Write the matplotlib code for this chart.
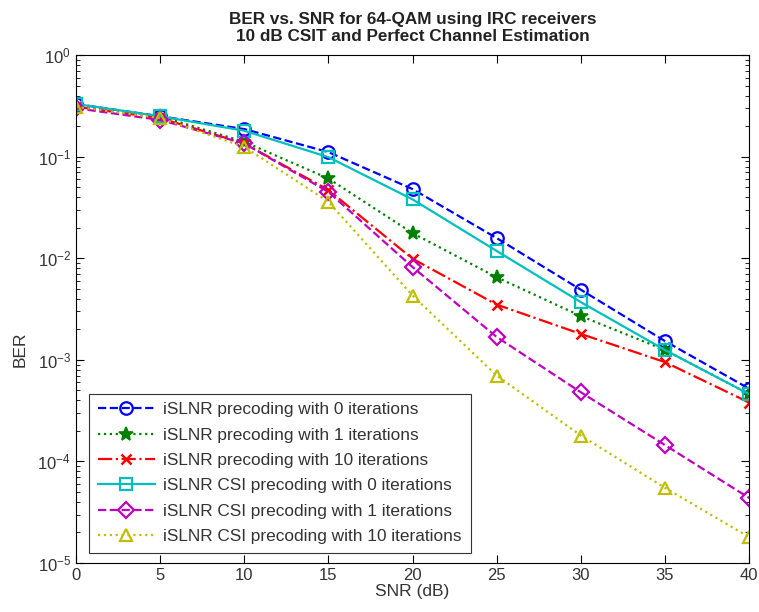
import matplotlib
matplotlib.use("Agg")
import matplotlib.pyplot as plt
from matplotlib.ticker import LogLocator, NullFormatter

plt.rcParams['font.family'] = ['Liberation Sans', 'DejaVu Sans']
plt.rcParams['mathtext.fontset'] = 'custom'
plt.rcParams['mathtext.rm'] = 'Liberation Sans'

# SNR points (dB)
snr = [0, 5, 10, 15, 20, 25, 30, 35, 40]

# BER values
ber_slnr_0 = [0.33, 0.25, 0.187, 0.111, 0.048, 0.0158, 0.0049, 0.00153, 0.00052]
ber_slnr_1 = [0.31, 0.25, 0.14, 0.061, 0.0177, 0.0065, 0.0027, 0.00125, 0.00046]
ber_slnr_10 = [0.31, 0.24, 0.135, 0.047, 0.0099, 0.0035, 0.0018, 0.00095, 0.00038]
ber_csi_0 = [0.33, 0.25, 0.18, 0.099, 0.038, 0.0118, 0.0037, 0.00125, 0.00046]
ber_csi_1 = [0.30, 0.23, 0.135, 0.045, 0.0082, 0.00168, 0.00048, 0.000145, 0.0000437]
ber_csi_10 = [0.31, 0.24, 0.125, 0.036, 0.0043, 0.0007, 0.00018, 0.000055, 0.000018]

labels = [
    "iSLNR precoding with 0 iterations",
    "iSLNR precoding with 1 iterations",
    "iSLNR precoding with 10 iterations",
    "iSLNR CSI precoding with 0 iterations",
    "iSLNR CSI precoding with 1 iterations",
    "iSLNR CSI precoding with 10 iterations",
]

fig = plt.figure(figsize=(7.59, 6.12), dpi=100)
ax = fig.add_axes([0.100, 0.080, 0.887, 0.830])

lw = 1.6
ax.semilogy(snr, ber_slnr_0, '--o', color='#0000ff', mfc='none', mew=1.6, ms=9, lw=lw, label=labels[0])
ax.semilogy(snr, ber_slnr_1, ':*', color='#008000', mfc='#008000', mew=1.2, ms=10, lw=lw, label=labels[1])
ax.semilogy(snr, ber_slnr_10, '-.x', color='#ff0000', mew=1.8, ms=7, lw=lw, label=labels[2])
ax.semilogy(snr, ber_csi_0, '-s', color='#00bfbf', mfc='none', mew=1.6, ms=8, lw=lw, label=labels[3])
ax.semilogy(snr, ber_csi_1, '--D', color='#bf00bf', mfc='none', mew=1.6, ms=8, lw=lw, label=labels[4])
ax.semilogy(snr, ber_csi_10, ':^', color='#bfbf00', mfc='none', mew=1.6, ms=9, lw=lw, label=labels[5])

ax.set_xlim(0, 40)
ax.set_ylim(1e-5, 1)
ax.set_xticks(range(0, 41, 5))
ax.yaxis.set_major_locator(LogLocator(base=10, numticks=10))
ax.yaxis.set_minor_locator(LogLocator(base=10, subs=range(2, 10), numticks=10))
ax.yaxis.set_minor_formatter(NullFormatter())
ax.tick_params(which='both', direction='in', top=True, right=True, labelsize=12,
               labelcolor='#333333')
ax.tick_params(which='major', length=6)
ax.tick_params(which='minor', length=3)

ax.set_xlabel("SNR (dB)", fontsize=12.5, labelpad=1, color='#333333')
ax.set_ylabel("BER", fontsize=12.5, color='#333333')
ax.yaxis.set_label_coords(-0.072, 0.42)
ax.set_title("BER vs. SNR for 64-QAM using IRC receivers\n10 dB CSIT and Perfect Channel Estimation",
             fontsize=12.3, fontweight='bold', pad=10, color='#222222')

leg = ax.legend(loc='lower left', bbox_to_anchor=(0.02, 0.02), fontsize=12.4,
                fancybox=False, framealpha=1, edgecolor='#333333', handlelength=3.3,
                labelspacing=0.6, borderpad=0.5, handletextpad=0.5, borderaxespad=0)
leg.get_frame().set_linewidth(0.8)
for t in leg.get_texts():
    t.set_color('#333333')

fig.savefig("out.png", dpi=100)
